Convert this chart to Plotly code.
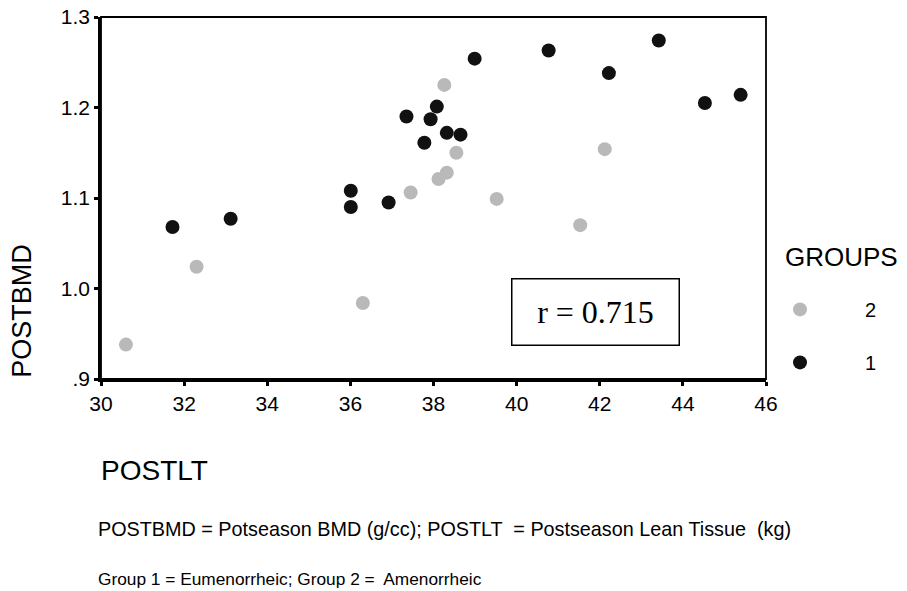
import plotly.graph_objects as go

# Data
group2_x = [30.6, 32.3, 36.3, 37.45, 38.12, 38.32, 38.26, 38.55, 39.52, 41.53, 42.12]
group2_y = [0.938, 1.024, 0.984, 1.106, 1.121, 1.128, 1.225, 1.150, 1.099, 1.070, 1.154]
group1_x = [31.72, 33.12, 36.01, 36.01, 36.92, 37.35, 37.78, 37.93, 38.08, 38.32,
            38.65, 38.99, 40.77, 42.22, 43.42, 44.53, 45.39]
group1_y = [1.068, 1.077, 1.108, 1.090, 1.095, 1.190, 1.161, 1.187, 1.201, 1.172,
            1.170, 1.254, 1.263, 1.238, 1.274, 1.205, 1.214]

x_ticks = [30, 32, 34, 36, 38, 40, 42, 44, 46]
y_ticks = [0.9, 1.0, 1.1, 1.2, 1.3]
y_tick_labels = [".9", "1.0", "1.1", "1.2", "1.3"]

SANS = "Liberation Sans, Arial, sans-serif"

fig = go.Figure()
fig.add_trace(go.Scatter(
    x=group2_x, y=group2_y, mode="markers", name="2", legendgroup="g2",
    marker=dict(color="#b9b9b9", size=14, line=dict(width=0)),
))
fig.add_trace(go.Scatter(
    x=group1_x, y=group1_y, mode="markers", name="1", legendgroup="g1",
    marker=dict(color="#111111", size=14, line=dict(width=0)),
))

fig.update_layout(
    width=907, height=591,
    margin=dict(l=101, r=141, t=17, b=212, autoexpand=False),
    paper_bgcolor="white", plot_bgcolor="white",
    font=dict(family=SANS, color="black", size=20),
    hovermode=False,
    showlegend=True,
    legend=dict(
        x=0.9534, xanchor="left", y=-0.008, yanchor="bottom",
        font=dict(size=20, family=SANS),
        itemwidth=120, tracegroupgap=24,
        bgcolor="rgba(0,0,0,0)",
    ),
    xaxis=dict(
        range=[30, 46], tickvals=x_ticks, ticktext=[str(v) for v in x_ticks],
        showgrid=False, zeroline=False, automargin=False,
        showline=True, linecolor="black", linewidth=2.5,
        ticks="outside", ticklen=4, tickwidth=3, tickcolor="black",
        tickfont=dict(size=21, family=SANS), ticklabeloverflow="allow",
    ),
    yaxis=dict(
        range=[0.9, 1.3], tickvals=y_ticks, ticktext=y_tick_labels,
        showgrid=False, zeroline=False, automargin=False,
        showline=True, linecolor="black", linewidth=2.5,
        ticks="outside", ticklen=4, tickwidth=3, tickcolor="black",
        tickfont=dict(size=21, family=SANS), ticklabeloverflow="allow",
    ),
    shapes=[dict(type="rect", xref="paper", yref="paper", x0=0, x1=1, y0=0, y1=1,
                 line=dict(color="black", width=1.8), layer="above")],
    annotations=[
        dict(text="r = 0.715", x=41.89, y=0.974, xref="x", yref="y",
             showarrow=False, font=dict(family="Liberation Serif, Times New Roman, serif", size=32),
             bordercolor="black", borderwidth=1.5, borderpad=0, width=166, height=65,
             bgcolor="white"),
        dict(text="GROUPS", x=1.0256, y=0.337, xref="paper", yref="paper",
             showarrow=False, font=dict(size=26, family=SANS),
             xanchor="left", yanchor="middle"),
        dict(text="POSTBMD", x=-0.119, y=0.188, xref="paper", yref="paper",
             textangle=-90, showarrow=False, font=dict(size=27, family=SANS),
             xanchor="center", yanchor="middle"),
        dict(text="POSTLT", x=-0.003, y=-0.254, xref="paper", yref="paper",
             showarrow=False, font=dict(size=28, family=SANS),
             xanchor="left", yanchor="middle"),
        dict(text="POSTBMD = Potseason BMD (g/cc); POSTLT  = Postseason Lean Tissue  (kg)",
             x=-0.007, y=-0.414, xref="paper", yref="paper",
             showarrow=False, font=dict(size=19.8, family=SANS),
             xanchor="left", yanchor="middle"),
        dict(text="Group 1 = Eumenorrheic; Group 2 =  Amenorrheic",
             x=-0.007, y=-0.552, xref="paper", yref="paper",
             showarrow=False, font=dict(size=17.3, family=SANS),
             xanchor="left", yanchor="middle"),
    ],
)

fig.write_html("out.html", config={"displayModeBar": False},
               post_script="document.body.style.margin='0';")
